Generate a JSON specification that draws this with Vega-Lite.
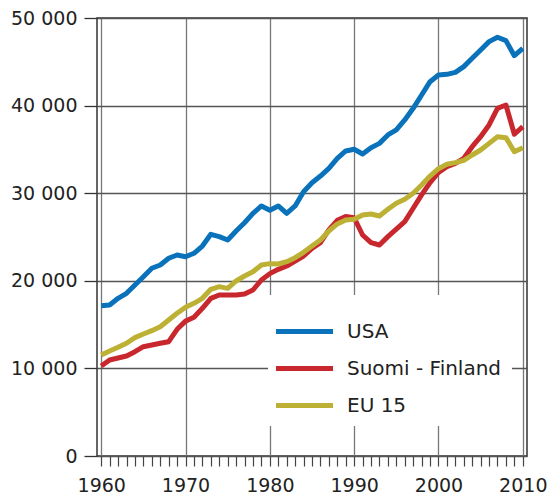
{
  "$schema": "https://vega.github.io/schema/vega-lite/v6.json",
  "autosize": "none",
  "width": 430,
  "height": 438,
  "padding": {"left": 97, "top": 18, "right": 27, "bottom": 42},
  "background": "white",
  "config": {
    "view": {"stroke": "#333", "strokeWidth": 1.5},
    "font": "DejaVu Sans"
  },
  "datasets": {
    "gdp": [
      {"year":1960,"country":"USA","value":17160},{"year":1961,"country":"USA","value":17240},{"year":1962,"country":"USA","value":18000},{"year":1963,"country":"USA","value":18570},{"year":1964,"country":"USA","value":19520},{"year":1965,"country":"USA","value":20470},{"year":1966,"country":"USA","value":21430},{"year":1967,"country":"USA","value":21800},{"year":1968,"country":"USA","value":22570},{"year":1969,"country":"USA","value":22950},
      {"year":1970,"country":"USA","value":22750},{"year":1971,"country":"USA","value":23140},{"year":1972,"country":"USA","value":23970},{"year":1973,"country":"USA","value":25310},{"year":1974,"country":"USA","value":25040},{"year":1975,"country":"USA","value":24660},{"year":1976,"country":"USA","value":25690},{"year":1977,"country":"USA","value":26630},{"year":1978,"country":"USA","value":27700},{"year":1979,"country":"USA","value":28540},
      {"year":1980,"country":"USA","value":28050},{"year":1981,"country":"USA","value":28540},{"year":1982,"country":"USA","value":27700},{"year":1983,"country":"USA","value":28540},{"year":1984,"country":"USA","value":30170},{"year":1985,"country":"USA","value":31200},{"year":1986,"country":"USA","value":31960},{"year":1987,"country":"USA","value":32840},{"year":1988,"country":"USA","value":33980},{"year":1989,"country":"USA","value":34820},
      {"year":1990,"country":"USA","value":35010},{"year":1991,"country":"USA","value":34480},{"year":1992,"country":"USA","value":35200},{"year":1993,"country":"USA","value":35690},{"year":1994,"country":"USA","value":36650},{"year":1995,"country":"USA","value":37220},{"year":1996,"country":"USA","value":38360},{"year":1997,"country":"USA","value":39690},{"year":1998,"country":"USA","value":41210},{"year":1999,"country":"USA","value":42730},
      {"year":2000,"country":"USA","value":43490},{"year":2001,"country":"USA","value":43570},{"year":2002,"country":"USA","value":43800},{"year":2003,"country":"USA","value":44450},{"year":2004,"country":"USA","value":45400},{"year":2005,"country":"USA","value":46350},{"year":2006,"country":"USA","value":47300},{"year":2007,"country":"USA","value":47800},{"year":2008,"country":"USA","value":47420},{"year":2009,"country":"USA","value":45700},{"year":2010,"country":"USA","value":46540},

      {"year":1960,"country":"Suomi - Finland","value":10270},{"year":1961,"country":"Suomi - Finland","value":10960},{"year":1962,"country":"Suomi - Finland","value":11190},{"year":1963,"country":"Suomi - Finland","value":11420},{"year":1964,"country":"Suomi - Finland","value":11910},{"year":1965,"country":"Suomi - Finland","value":12480},{"year":1966,"country":"Suomi - Finland","value":12670},{"year":1967,"country":"Suomi - Finland","value":12870},{"year":1968,"country":"Suomi - Finland","value":13050},{"year":1969,"country":"Suomi - Finland","value":14460},
      {"year":1970,"country":"Suomi - Finland","value":15400},{"year":1971,"country":"Suomi - Finland","value":15830},{"year":1972,"country":"Suomi - Finland","value":16860},{"year":1973,"country":"Suomi - Finland","value":18000},{"year":1974,"country":"Suomi - Finland","value":18380},{"year":1975,"country":"Suomi - Finland","value":18380},{"year":1976,"country":"Suomi - Finland","value":18380},{"year":1977,"country":"Suomi - Finland","value":18490},{"year":1978,"country":"Suomi - Finland","value":18950},{"year":1979,"country":"Suomi - Finland","value":20090},
      {"year":1980,"country":"Suomi - Finland","value":20820},{"year":1981,"country":"Suomi - Finland","value":21310},{"year":1982,"country":"Suomi - Finland","value":21690},{"year":1983,"country":"Suomi - Finland","value":22260},{"year":1984,"country":"Suomi - Finland","value":22830},{"year":1985,"country":"Suomi - Finland","value":23710},{"year":1986,"country":"Suomi - Finland","value":24350},{"year":1987,"country":"Suomi - Finland","value":25800},{"year":1988,"country":"Suomi - Finland","value":26900},{"year":1989,"country":"Suomi - Finland","value":27350},
      {"year":1990,"country":"Suomi - Finland","value":27200},{"year":1991,"country":"Suomi - Finland","value":25230},{"year":1992,"country":"Suomi - Finland","value":24350},{"year":1993,"country":"Suomi - Finland","value":24090},{"year":1994,"country":"Suomi - Finland","value":25040},{"year":1995,"country":"Suomi - Finland","value":25910},{"year":1996,"country":"Suomi - Finland","value":26750},{"year":1997,"country":"Suomi - Finland","value":28280},{"year":1998,"country":"Suomi - Finland","value":29800},{"year":1999,"country":"Suomi - Finland","value":31200},
      {"year":2000,"country":"Suomi - Finland","value":32370},{"year":2001,"country":"Suomi - Finland","value":33030},{"year":2002,"country":"Suomi - Finland","value":33410},{"year":2003,"country":"Suomi - Finland","value":33980},{"year":2004,"country":"Suomi - Finland","value":35310},{"year":2005,"country":"Suomi - Finland","value":36450},{"year":2006,"country":"Suomi - Finland","value":37790},{"year":2007,"country":"Suomi - Finland","value":39690},{"year":2008,"country":"Suomi - Finland","value":40070},{"year":2009,"country":"Suomi - Finland","value":36730},{"year":2010,"country":"Suomi - Finland","value":37590},

      {"year":1960,"country":"EU 15","value":11530},{"year":1961,"country":"EU 15","value":11990},{"year":1962,"country":"EU 15","value":12410},{"year":1963,"country":"EU 15","value":12870},{"year":1964,"country":"EU 15","value":13510},{"year":1965,"country":"EU 15","value":13930},{"year":1966,"country":"EU 15","value":14310},{"year":1967,"country":"EU 15","value":14760},{"year":1968,"country":"EU 15","value":15530},{"year":1969,"country":"EU 15","value":16290},
      {"year":1970,"country":"EU 15","value":16980},{"year":1971,"country":"EU 15","value":17430},{"year":1972,"country":"EU 15","value":18000},{"year":1973,"country":"EU 15","value":19030},{"year":1974,"country":"EU 15","value":19330},{"year":1975,"country":"EU 15","value":19140},{"year":1976,"country":"EU 15","value":19980},{"year":1977,"country":"EU 15","value":20550},{"year":1978,"country":"EU 15","value":21040},{"year":1979,"country":"EU 15","value":21800},
      {"year":1980,"country":"EU 15","value":21960},{"year":1981,"country":"EU 15","value":21920},{"year":1982,"country":"EU 15","value":22180},{"year":1983,"country":"EU 15","value":22640},{"year":1984,"country":"EU 15","value":23250},{"year":1985,"country":"EU 15","value":23970},{"year":1986,"country":"EU 15","value":24660},{"year":1987,"country":"EU 15","value":25690},{"year":1988,"country":"EU 15","value":26490},{"year":1989,"country":"EU 15","value":26940},
      {"year":1990,"country":"EU 15","value":27030},{"year":1991,"country":"EU 15","value":27510},{"year":1992,"country":"EU 15","value":27630},{"year":1993,"country":"EU 15","value":27400},{"year":1994,"country":"EU 15","value":28160},{"year":1995,"country":"EU 15","value":28850},{"year":1996,"country":"EU 15","value":29300},{"year":1997,"country":"EU 15","value":29990},{"year":1998,"country":"EU 15","value":30940},{"year":1999,"country":"EU 15","value":31960},
      {"year":2000,"country":"EU 15","value":32800},{"year":2001,"country":"EU 15","value":33300},{"year":2002,"country":"EU 15","value":33490},{"year":2003,"country":"EU 15","value":33750},{"year":2004,"country":"EU 15","value":34360},{"year":2005,"country":"EU 15","value":34930},{"year":2006,"country":"EU 15","value":35690},{"year":2007,"country":"EU 15","value":36450},{"year":2008,"country":"EU 15","value":36340},{"year":2009,"country":"EU 15","value":34740},{"year":2010,"country":"EU 15","value":35200}
    ]
  },
  "data": {"name": "gdp"},
  "mark": {"type": "line", "strokeWidth": 5, "strokeJoin": "round"},
  "encoding": {
    "x": {
      "field": "year",
      "type": "quantitative",
      "scale": {"domain": [1959.5, 2010.5], "nice": false, "zero": false},
      "axis": {
        "title": null,
        "domain": false,
        "values": [1960,1961,1962,1963,1964,1965,1966,1967,1968,1969,1970,1971,1972,1973,1974,1975,1976,1977,1978,1979,1980,1981,1982,1983,1984,1985,1986,1987,1988,1989,1990,1991,1992,1993,1994,1995,1996,1997,1998,1999,2000,2001,2002,2003,2004,2005,2006,2007,2008,2009,2010],
        "format": "d",
        "labelExpr": "datum.value % 10 === 0 ? datum.label : ''",
        "labelFontSize": 19,
        "labelFont": "DejaVu Sans",
        "labelColor": "#222",
        "labelDx": 4,
        "labelPadding": 10,
        "labelFlush": false,
        "labelOverlap": false,
        "tickSize": 10,
        "tickColor": "#444",
        "tickWidth": 1.2,
        "grid": true,
        "gridColor": "#777",
        "gridWidth": 1.3,
        "gridOpacity": {"condition": {"test": "datum.value % 10 === 0", "value": 1}, "value": 0}
      }
    },
    "y": {
      "field": "value",
      "type": "quantitative",
      "scale": {"domain": [0, 50000], "nice": false},
      "axis": {
        "title": null,
        "domain": false,
        "values": [0, 10000, 20000, 30000, 40000, 50000],
        "labelExpr": "replace(format(datum.value, ','), ',', ' ')",
        "labelFontSize": 19,
        "labelFont": "DejaVu Sans",
        "labelColor": "#222",
        "labelPadding": 7,
        "tickSize": 13,
        "tickColor": "#333",
        "tickWidth": 1.3,
        "grid": true,
        "gridColor": "#555",
        "gridWidth": 1.3
      }
    },
    "color": {
      "field": "country",
      "type": "nominal",
      "scale": {"domain": ["USA", "Suomi - Finland", "EU 15"], "range": ["#0a72ba", "#c8272e", "#bcb134"]},
      "legend": {
        "title": null,
        "orient": "none",
        "legendX": 171,
        "legendY": 277,
        "fillColor": "white",
        "padding": 10,
        "symbolType": "M-1.205,0H1.205",
        "symbolSize": 2240,
        "symbolStrokeWidth": 5,
        "labelFontSize": 20,
        "labelFont": "DejaVu Sans",
        "labelColor": "#222",
        "labelOffset": 16,
        "rowPadding": 0
      }
    }
  }
}
